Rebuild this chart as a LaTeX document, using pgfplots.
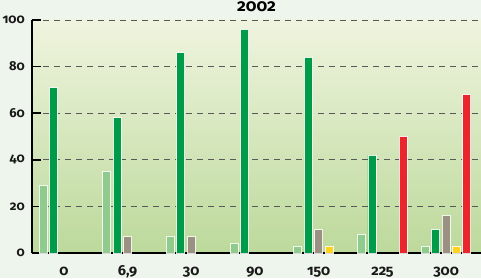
\documentclass[border=0pt]{standalone}
\usepackage{pgfplots}
\pgfplotsset{compat=1.18}
\usepackage{fontspec}
\setmainfont{Fira Sans}[Numbers=OldStyle]
\definecolor{outbg}{HTML}{EEF5EC}
\definecolor{bgtop}{HTML}{EFF4DE}
\definecolor{bgbot}{HTML}{BCD99B}
\definecolor{cLight}{HTML}{8FCB8C}
\definecolor{cDark}{HTML}{009B48}
\definecolor{cGrey}{HTML}{9A9183}
\definecolor{cYellow}{HTML}{FFD21F}
\definecolor{cRed}{HTML}{E8262B}
\begin{document}
\begin{tikzpicture}[x=1pt,y=1pt]
\fill[outbg] (-32,-25) rectangle (449,253);
\path[use as bounding box] (-32,-25) rectangle (449,253);
\begin{axis}[
  scale only axis, width=449pt, height=233pt,
  xmin=-0.5, xmax=6.548, ymin=0, ymax=100,
  axis lines*=left,
  axis line style={black, line width=1.6pt},
  axis background/.style={shade, top color=bgtop, bottom color=bgbot},
  ybar=2.4pt, bar width=8pt,
  every axis plot/.append style={draw=white, draw opacity=0.85, line width=0.9pt},
  xtick={0,1,2,3,4,5,6},
  xticklabels={0,{6,9},30,90,150,225,300},
  x tick style={draw=none},
  extra x ticks={0.5,1.5,2.5,3.5,4.5,5.5,6.5},
  extra x tick labels={},
  extra x tick style={tick style={draw=black, line width=1.6pt}, major tick length=5pt, tick align=inside, grid=none},
  ytick={0,20,40,60,80,100},
  y tick style={black, line width=1.6pt},
  tick align=inside, major tick length=9pt,
  ymajorgrids, grid style={dashed, dash pattern=on 6pt off 5pt, black!65, line width=0.8pt},
  yticklabel style={font=\fontsize{13}{13}\selectfont\bfseries, text=black!90, inner sep=0pt, xshift=-7pt},
  xticklabel style={font=\fontsize{14.5}{14.5}\selectfont\bfseries, text=black!90, inner sep=0pt, anchor=base, yshift=-22pt},
  /pgf/number format/assume math mode=true,
  clip=false,
]
\addplot[fill=cLight] coordinates {(0,29) (1,35) (2,7) (3,4) (4,3) (5,8) (6,3)};
\addplot[fill=cDark] coordinates {(0,71) (1,58) (2,86) (3,96) (4,84) (5,42) (6,10)};
\addplot[fill=cGrey] coordinates {(1,7) (2,7) (4,10) (6,16)};
\addplot[fill=cYellow] coordinates {(4,3) (6,3)};
\addplot[fill=cRed] coordinates {(5,50) (6,68)};
\node[font=\fontsize{17}{17}\selectfont\bfseries, inner sep=0pt, anchor=base] at (rel axis cs:0.5,1) [yshift=8pt] {2002};
\end{axis}
\end{tikzpicture}
\end{document}
